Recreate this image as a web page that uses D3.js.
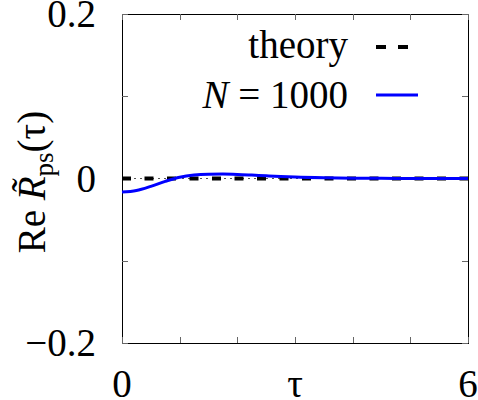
<!DOCTYPE html>
<html>
<head>
<meta charset="utf-8">
<script src="https://cdn.jsdelivr.net/npm/d3@7"></script>
<style>
  body { margin: 0; background: #fff; }
</style>
</head>
<body>
<script>
// values
const tau = [0, 0.25, 0.5, 0.75, 1, 1.25, 1.5, 1.75, 2, 2.25, 2.5, 2.75, 3, 3.5, 4, 4.5, 5, 5.5, 6]
const reN1000 = [-0.0165, -0.0145, -0.0095, -0.0035, 0.0015, 0.0042, 0.0052, 0.0054, 0.005, 0.0042,
  0.0033, 0.0025, 0.0018, 0.0009, 0.0004, 0.0002, 0.0001, 0, 0]
const theoryTau = [0, 6]
const theoryRe = [0, 0]
const xTicks = [0, 1, 2, 3, 4, 5, 6]
const xTickLabels = {0: "0", 3: "τ", 6: "6"}
const yTicks = [-0.2, -0.1, 0, 0.1, 0.2]
const yTickLabels = {"-0.2": "−0.2", "0": "0", "0.2": "0.2"}

const width = 478, height = 400
const plotLeft = 122, plotRight = 468, plotTop = 14, plotBottom = 343
const serif = "'Liberation Serif', 'Times New Roman', Times, serif"

let x = d3.scaleLinear().domain([0, 6]).range([plotLeft, plotRight])
let y = d3.scaleLinear().domain([-0.2, 0.2]).range([plotBottom, plotTop])

let svg = d3.select("body").append("svg")
  .attr("width", width)
  .attr("height", height)
  .attr("font-family", serif)

// frame
svg.append("rect")
  .attr("x", plotLeft + 0.5)
  .attr("y", plotTop + 0.5)
  .attr("width", plotRight - plotLeft)
  .attr("height", plotBottom - plotTop)
  .style("fill", "none")
  .style("stroke", "#000")
  .style("stroke-width", 1)

// inward ticks on all four sides
let ticks = svg.append("g").style("stroke", "#666").style("stroke-width", 1)
xTicks.forEach((t) => {
  let px = Math.round(x(t)) + 0.5
  ticks.append("line").attr("x1", px).attr("x2", px).attr("y1", plotBottom).attr("y2", plotBottom - 6)
  ticks.append("line").attr("x1", px).attr("x2", px).attr("y1", plotTop).attr("y2", plotTop + 6)
})
yTicks.forEach((t) => {
  let py = Math.round(y(t)) + 0.5
  ticks.append("line").attr("x1", plotLeft).attr("x2", plotLeft + 6).attr("y1", py).attr("y2", py)
  ticks.append("line").attr("x1", plotRight).attr("x2", plotRight - 6).attr("y1", py).attr("y2", py)
})

// tick labels
svg.append("g")
  .selectAll("text")
  .data(xTicks.filter((t) => xTickLabels[t] !== undefined))
  .enter()
  .append("text")
  .attr("x", (d) => x(d))
  .attr("y", 397)
  .attr("text-anchor", "middle")
  .attr("font-size", "39px")
  .text((d) => xTickLabels[d])

svg.append("g")
  .selectAll("text")
  .data(yTicks.filter((t) => yTickLabels[String(t)] !== undefined))
  .enter()
  .append("text")
  .attr("x", 96)
  .attr("y", (d) => y(d) + 13)
  .attr("text-anchor", "end")
  .attr("font-size", "39px")
  .text((d) => yTickLabels[String(d)])

// y axis label
let ylab = svg.append("text")
  .attr("transform", "translate(45,182) rotate(-90)")
  .attr("text-anchor", "middle")
  .attr("font-size", "39px")
ylab.append("tspan").text("Re ")
ylab.append("tspan").attr("font-style", "italic").text("R\u0303")
ylab.append("tspan").attr("font-size", "27px").attr("dy", 8).text("ps")
ylab.append("tspan").attr("dy", -8).text("(τ)")

// zero axis, thin dotted
svg.append("line")
  .attr("x1", plotLeft).attr("x2", plotRight)
  .attr("y1", y(0)).attr("y2", y(0))
  .style("stroke", "#555")
  .style("stroke-width", 1)
  .style("stroke-dasharray", "2,4")

// theory
let lineGen = d3.line()
  .x((d) => x(d[0]))
  .y((d) => y(d[1]))

svg.append("path")
  .datum(d3.zip(theoryTau, theoryRe))
  .attr("d", lineGen)
  .style("fill", "none")
  .style("stroke", "#000")
  .style("stroke-width", 4)
  .style("stroke-dasharray", "9,13.5")

// N = 1000
svg.append("path")
  .datum(d3.zip(tau, reN1000))
  .attr("d", lineGen.curve(d3.curveMonotoneX))
  .style("fill", "none")
  .style("stroke", "#0000ff")
  .style("stroke-width", 3)

// legend
let legend = svg.append("g").attr("class", "legend")
legend.append("text")
  .attr("x", 348).attr("y", 58)
  .attr("text-anchor", "end")
  .attr("font-size", "39px")
  .text("theory")
legend.append("line")
  .attr("x1", 376).attr("x2", 418).attr("y1", 47).attr("y2", 47)
  .style("stroke", "#000").style("stroke-width", 4)
  .style("stroke-dasharray", "10,12")

let nText = legend.append("text")
  .attr("x", 348).attr("y", 108)
  .attr("text-anchor", "end")
  .attr("font-size", "39px")
nText.append("tspan").attr("font-style", "italic").text("N")
nText.append("tspan").text(" = 1000")
legend.append("line")
  .attr("x1", 376).attr("x2", 418).attr("y1", 95).attr("y2", 95)
  .style("stroke", "#0000ff").style("stroke-width", 3)
</script>
</body>
</html>
